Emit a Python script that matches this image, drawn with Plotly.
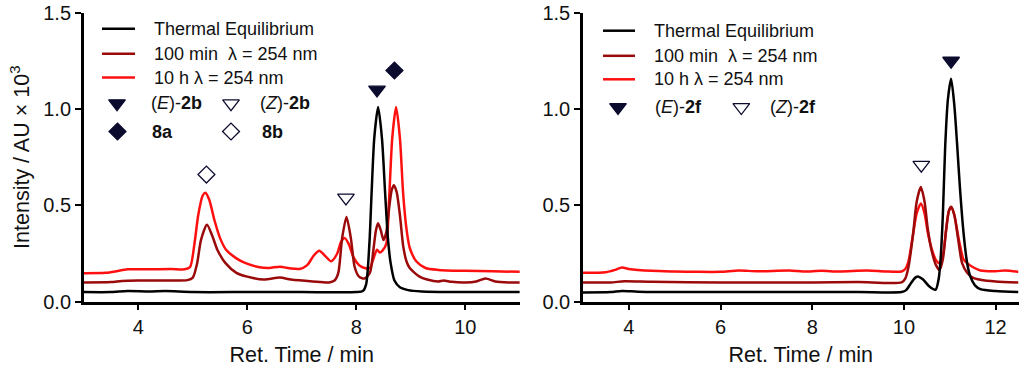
import plotly.graph_objects as go

W, H = 1024, 370

# ---------------- data ----------------
# Left panel (compound 2b)
eq_left_x = [3.0, 3.5, 3.8, 4.2, 4.5, 5.0, 6.0, 7.0, 8.0, 8.12, 8.18, 8.24, 8.28, 8.33, 8.40,
             8.47, 8.53, 8.58, 8.63, 8.70, 8.80, 8.95, 9.2, 10.0, 11.0]
eq_left_y = [0.05, 0.05, 0.055, 0.053, 0.055, 0.05, 0.05, 0.05, 0.05, 0.055, 0.09, 0.30, 0.56, 0.85, 1.01,
             0.85, 0.56, 0.33, 0.20, 0.11, 0.075, 0.06, 0.053, 0.05, 0.05]

m100_left_x = [3.0, 3.5, 3.7, 4.0, 4.5, 4.9, 5.0, 5.08, 5.15, 5.26, 5.36, 5.45, 5.6, 5.8, 6.0, 6.3,
               6.6, 6.8, 7.2, 7.5, 7.6, 7.67, 7.74, 7.82, 7.9, 7.97, 8.05, 8.15, 8.25, 8.31, 8.36,
               8.40, 8.45, 8.50, 8.55, 8.60, 8.65, 8.69, 8.74, 8.80, 8.86, 8.92, 8.98, 9.16, 9.3,
               9.5, 9.6, 9.75, 10.0, 10.2, 10.37, 10.55, 10.8, 11.0]
m100_left_y = [0.10, 0.102, 0.108, 0.11, 0.11, 0.112, 0.125, 0.20, 0.32, 0.40, 0.34, 0.27, 0.20, 0.15, 0.13, 0.115,
               0.125, 0.115, 0.105, 0.10, 0.11, 0.15, 0.33, 0.44, 0.33, 0.18, 0.13, 0.12, 0.15, 0.26, 0.37,
               0.407, 0.37, 0.32, 0.36, 0.48, 0.58, 0.605, 0.57, 0.45, 0.29, 0.21, 0.175, 0.13, 0.115,
               0.105, 0.11, 0.103, 0.10, 0.105, 0.12, 0.105, 0.10, 0.10]

h10_left_x = [3.0, 3.4, 3.6, 3.8, 4.2, 4.6, 4.85, 4.95, 5.03, 5.10, 5.18, 5.23, 5.30, 5.40, 5.50,
              5.61, 5.8, 5.97, 6.2, 6.4, 6.6, 6.8, 6.96, 7.1, 7.22, 7.32, 7.42, 7.54, 7.65, 7.72,
              7.79, 7.86, 7.95, 8.05, 8.15, 8.25, 8.31, 8.38, 8.43, 8.48, 8.55, 8.60, 8.66, 8.73,
              8.80, 8.86, 8.92, 8.98, 9.1, 9.27, 9.5, 10.0, 10.5, 11.0]
h10_left_y = [0.148, 0.15, 0.158, 0.168, 0.168, 0.17, 0.168, 0.18, 0.30, 0.45, 0.55, 0.565, 0.53, 0.42, 0.33,
              0.27, 0.225, 0.20, 0.18, 0.175, 0.182, 0.172, 0.17, 0.19, 0.24, 0.265, 0.24, 0.21, 0.25, 0.31,
              0.33, 0.30, 0.23, 0.19, 0.175, 0.175, 0.22, 0.27, 0.255, 0.265, 0.30, 0.52, 0.85, 1.01,
              0.85, 0.56, 0.38, 0.28, 0.21, 0.175, 0.165, 0.16, 0.158, 0.155]

# Right panel (compound 2f)
eq_right_x = [3.0, 3.6, 3.85, 4.2, 5.0, 7.0, 9.0, 9.95, 10.05, 10.15, 10.25, 10.32, 10.42, 10.55, 10.69,
              10.76, 10.80, 10.85, 10.90, 10.96, 11.03, 11.10, 11.16, 11.22, 11.30, 11.38, 11.45,
              11.55, 11.67, 12.0, 12.5]
eq_right_y = [0.048, 0.05, 0.056, 0.052, 0.05, 0.05, 0.05, 0.05, 0.06, 0.095, 0.125, 0.13, 0.115, 0.08, 0.062,
              0.12, 0.22, 0.45, 0.80, 1.05, 1.157, 1.02, 0.82, 0.60, 0.36, 0.20, 0.13,
              0.085, 0.065, 0.055, 0.05]

m100_right_x = [3.0, 3.6, 3.9, 4.5, 6.0, 8.0, 9.0, 9.95, 10.03, 10.10, 10.20, 10.28, 10.37, 10.45, 10.52,
                10.60, 10.70, 10.78, 10.85, 10.92, 10.98, 11.03, 11.10, 11.18, 11.27, 11.38, 11.50,
                11.67, 12.0, 12.5]
m100_right_y = [0.10, 0.10, 0.106, 0.103, 0.10, 0.10, 0.102, 0.10, 0.12, 0.18, 0.35, 0.52, 0.595, 0.52, 0.38,
                0.27, 0.19, 0.165, 0.22, 0.37, 0.47, 0.493, 0.45, 0.33, 0.20, 0.15, 0.125,
                0.114, 0.105, 0.10]

h10_right_x = [3.0, 3.5, 3.7, 3.85, 4.0, 4.5, 5.0, 5.5, 6.0, 6.4, 6.8, 7.5, 7.8, 8.2, 8.6, 9.2, 9.6,
               9.95, 10.03, 10.10, 10.20, 10.28, 10.37, 10.45, 10.52, 10.60, 10.70, 10.78, 10.85,
               10.92, 10.98, 11.03, 11.10, 11.20, 11.30, 11.38, 11.50, 11.67, 12.0, 12.2, 12.5]
h10_right_y = [0.15, 0.153, 0.165, 0.178, 0.17, 0.16, 0.157, 0.155, 0.155, 0.162, 0.158, 0.162, 0.157, 0.16, 0.157, 0.162, 0.157,
               0.157, 0.17, 0.21, 0.35, 0.46, 0.51, 0.46, 0.36, 0.28, 0.215, 0.20, 0.24,
               0.37, 0.47, 0.49, 0.45, 0.32, 0.22, 0.20, 0.18, 0.162, 0.158, 0.162, 0.155]

# Peak assignment markers (retention time, height of marker)
left_E_x, left_E_y = [8.38], [1.10]
left_Z_x, left_Z_y = [7.81], [0.54]
left_8a_x, left_8a_y = [8.70], [1.20]
left_8b_x, left_8b_y = [5.25], [0.66]
right_E_x, right_E_y = [11.03], [1.25]
right_Z_x, right_Z_y = [10.38], [0.71]

x_ticks_left = [4, 6, 8, 10]
x_ticks_right = [4, 6, 8, 10, 12]
y_ticks = [0.0, 0.5, 1.0, 1.5]

series_names = ["Thermal Equilibrium", "100 min  λ = 254 nm", "10 h λ = 254 nm"]

# ---------------- styling ----------------
BLACK = "#000000"
DARKRED = "#9a0a0a"
RED = "#ff1010"
NAVY = "#0b0b2e"
TXT = "#111111"
FONT = "Liberation Sans, Arial, sans-serif"
LW = 2.5
TRI = 14.5
DIA = 13

fig = go.Figure()

left_series = [(eq_left_x, eq_left_y, BLACK), (m100_left_x, m100_left_y, DARKRED), (h10_left_x, h10_left_y, RED)]
right_series = [(eq_right_x, eq_right_y, BLACK), (m100_right_x, m100_right_y, DARKRED), (h10_right_x, h10_right_y, RED)]

for series, xa, ya in [(left_series, "x", "y"), (right_series, "x2", "y2")]:
    for (x, y, c), name in reversed(list(zip(series, series_names))):
        fig.add_trace(go.Scatter(x=x, y=y, mode="lines", name=name, xaxis=xa, yaxis=ya,
                                 line=dict(color=c, width=LW, shape="spline", smoothing=0.7),
                                 showlegend=False, hoverinfo="skip"))

def add_marker(x, y, sym, xa, ya, filled, size):
    fig.add_trace(go.Scatter(x=x, y=y, mode="markers", xaxis=xa, yaxis=ya, showlegend=False,
                             cliponaxis=False, hoverinfo="skip",
                             marker=dict(symbol=sym, size=size,
                                         color=NAVY if filled else "white",
                                         line=dict(color=NAVY, width=1.3))))

add_marker(left_E_x, left_E_y, "triangle-down", "x", "y", True, TRI)
add_marker(left_Z_x, left_Z_y, "triangle-down", "x", "y", False, TRI)
add_marker(left_8a_x, left_8a_y, "diamond", "x", "y", True, DIA)
add_marker(left_8b_x, left_8b_y, "diamond", "x", "y", False, DIA)
add_marker(right_E_x, right_E_y, "triangle-down", "x2", "y2", True, TRI)
add_marker(right_Z_x, right_Z_y, "triangle-down", "x2", "y2", False, TRI)

# ---------------- legends (drawn manually, pixel layout) ----------------
def px(x):
    return x / W

def py(y):
    return 1 - y / H

shapes = []
annotations = []

def legend_block(line_x0, line_x1, text_x, rows, key_rows):
    for (yy, c, name) in zip(rows, [BLACK, DARKRED, RED], series_names):
        shapes.append(dict(type="line", xref="paper", yref="paper", x0=px(line_x0), x1=px(line_x1),
                           y0=py(yy), y1=py(yy), line=dict(color=c, width=LW)))
        annotations.append(dict(text=name, xref="paper", yref="paper", x=px(text_x), y=py(yy),
                                xanchor="left", yanchor="middle", showarrow=False,
                                font=dict(size=18, color=TXT, family=FONT)))
    for (kx, ky, sym, filled, size, tx, label) in key_rows:
        fig.add_trace(go.Scatter(x=[kx], y=[ky], mode="markers", xaxis="x3", yaxis="y3",
                                 showlegend=False, cliponaxis=False, hoverinfo="skip",
                                 marker=dict(symbol=sym, size=size,
                                             color=NAVY if filled else "white",
                                             line=dict(color=NAVY, width=1.3))))
        annotations.append(dict(text=label, xref="paper", yref="paper", x=px(tx), y=py(ky),
                                xanchor="left", yanchor="middle", showarrow=False,
                                font=dict(size=18, color=TXT, family=FONT)))

legend_block(102, 135, 152, [28.8, 53.7, 77.6], [
    (117, 103.5, "triangle-down", True, TRI, 148.5, "(<i>E</i>)-<b>2b</b>"),
    (231, 103.5, "triangle-down", False, TRI, 258, "(<i>Z</i>)-<b>2b</b>"),
    (117.5, 131.5, "diamond", True, DIA, 150, "<b>8a</b>"),
    (231, 131.5, "diamond", False, DIA, 260, "<b>8b</b>"),
])
legend_block(603, 635, 652, [30.7, 55.8, 79.3], [
    (618, 107.3, "triangle-down", True, TRI, 652.5, "(<i>E</i>)-<b>2f</b>"),
    (741.3, 107.3, "triangle-down", False, TRI, 768, "(<i>Z</i>)-<b>2f</b>"),
])

# ---------------- axes ----------------
ydom = [1 - 301.7 / H, 1 - 12.7 / H]
common_axis = dict(showline=True, linecolor="black", linewidth=2.5, ticks="outside", ticklen=6,
                   tickwidth=2, tickcolor="black", showgrid=False, zeroline=False,
                   tickfont=dict(size=20, color=TXT, family=FONT), automargin=False)

fig.update_layout(
    width=W, height=H, margin=dict(l=0, r=0, t=0, b=0),
    paper_bgcolor="white", plot_bgcolor="rgba(0,0,0,0)", showlegend=False,
    font=dict(family=FONT, color=TXT),
    xaxis=dict(common_axis, domain=[83.8 / W, 519.8 / W], range=[3, 11], tickvals=x_ticks_left,
               anchor="y", title=dict(text="Ret. Time / min", font=dict(size=21.5, family=FONT), standoff=10)),
    yaxis=dict(common_axis, domain=ydom, range=[0, 1.5], tickvals=y_ticks, tickformat=".1f",
               anchor="x", title=dict(text="Intensity / AU × 10<sup>3</sup>", font=dict(size=21.5, family=FONT), standoff=8)),
    xaxis2=dict(common_axis, domain=[583 / W, 1018.5 / W], range=[3, 12.5], tickvals=x_ticks_right,
                anchor="y2", title=dict(text="Ret. Time / min", font=dict(size=21.5, family=FONT), standoff=10)),
    yaxis2=dict(common_axis, domain=ydom, range=[0, 1.5], tickvals=y_ticks, tickformat=".1f", anchor="x2"),
    xaxis3=dict(domain=[0, 1], range=[0, W], visible=False, anchor="y3", fixedrange=True),
    yaxis3=dict(domain=[0, 1], range=[H, 0], visible=False, anchor="x3", fixedrange=True),
    shapes=shapes, annotations=annotations,
)

fig.write_html("out.html", config={"displayModeBar": False},
               post_script="document.body.style.margin='0';document.body.style.overflow='hidden';")
